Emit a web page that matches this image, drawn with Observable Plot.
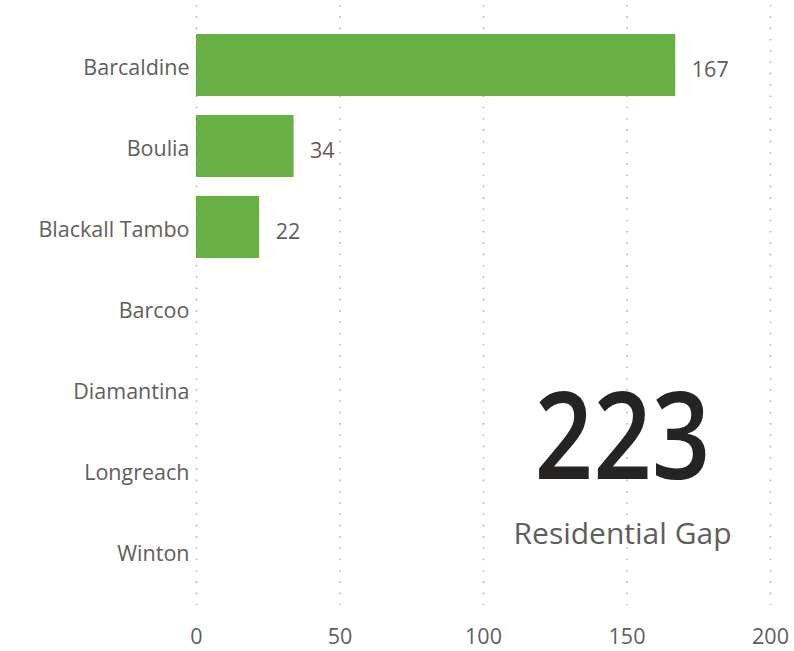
<!DOCTYPE html>
<html>
<head>
<meta charset="utf-8">
<script src="https://cdn.jsdelivr.net/npm/d3@7"></script>
<script src="https://cdn.jsdelivr.net/npm/@observablehq/plot@0.6"></script>
<style>
  html, body { margin: 0; padding: 0; background: #ffffff; }
  #chart svg { display: block; }
</style>
</head>
<body>
<div id="chart"></div>
<script>
const categories = ["Barcaldine", "Boulia", "Blackall Tambo", "Barcoo", "Diamantina", "Longreach", "Winton"];
const values = [167, 34, 22, null, null, null, null];
const xTicks = [0, 50, 100, 150, 200];
const cardLabel = "Residential Gap";

const data = categories.map((c, i) => ({category: c, value: values[i]}));
const bars = data.filter(d => d.value != null);
const total = d3.sum(values);

const font = "'Open Sans', 'Noto Sans', sans-serif";
const grey = "#605e5c";

const chart = Plot.plot({
  width: 794,
  height: 651,
  marginLeft: 196,
  marginRight: 24,
  marginTop: 5,
  marginBottom: 46,
  style: {fontFamily: font, fontSize: "21.5px", color: grey, background: "#fff"},
  x: {domain: [0, 200], label: null},
  y: {domain: categories, paddingInner: 0.23, paddingOuter: 0.115, insetTop: 17, insetBottom: 10, label: null},
  marks: [
    Plot.ruleX(xTicks, {stroke: "#b8b8b8", strokeWidth: 1.6, strokeDasharray: "1.6,9.7"}),
    Plot.axisX({ticks: xTicks, tickSize: 0, tickPadding: 23, label: null}),
    Plot.axisY({tickSize: 0, tickPadding: 7, dy: 3, label: null}),
    Plot.barX(bars, {x: "value", y: "category", fill: "#69b044"}),
    Plot.text(bars, {x: "value", y: "category", text: d => String(d.value), textAnchor: "start", dx: 16, dy: 5, fill: grey, fontSize: 21.5}),
    Plot.text([total], {frameAnchor: "right", text: d => String(d), textAnchor: "middle", dx: -148, dy: 134, fill: "#252423", fontSize: 122, fontWeight: 600}),
    Plot.text([cardLabel], {frameAnchor: "right", text: d => d, textAnchor: "middle", dx: -148, dy: 229, fill: grey, fontSize: 30})
  ]
});
d3.select(chart).selectAll("text")
  .filter(function() { return this.textContent === String(total); })
  .attr("textLength", 176)
  .attr("lengthAdjust", "spacingAndGlyphs");
document.getElementById("chart").appendChild(chart);
</script>
</body>
</html>
